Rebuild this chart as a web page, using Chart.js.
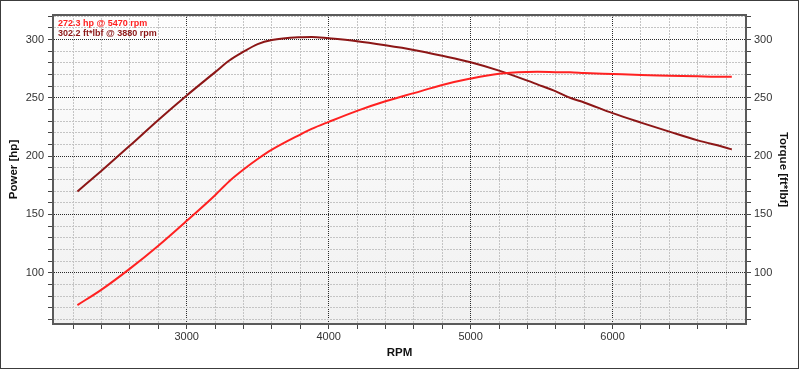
<!DOCTYPE html>
<html>
<head>
<meta charset="utf-8">
<script src="https://cdn.jsdelivr.net/npm/chart.js@4/dist/chart.umd.min.js"></script>
<style>
  html, body { margin: 0; padding: 0; background: #fff; }
  #wrap { width: 799px; height: 369px; box-sizing: border-box; border: 1px solid #3c3c3c; }
  canvas { display: block; }
</style>
</head>
<body>
<div id="wrap"><canvas id="dyno" width="797" height="367"></canvas></div>
<script>
// readings taken off the dyno sheet
var rpm    = [2230, 2400, 2600, 2800, 3000, 3200, 3300, 3400, 3500, 3600, 3800, 3880, 4000, 4200, 4400, 4600, 4800, 5000, 5200, 5400, 5470, 5600, 5700, 5800, 6000, 6200, 6400, 6600, 6800, 6840]
var power  = [72.2, 85.5, 103.5, 123.2, 144.5, 166.5, 178.5, 188.5, 197.5, 205.5, 218.5, 223.3, 229.3, 238.8, 247, 254, 261, 266.5, 270.7, 272.2, 272.3, 272, 271.8, 271.3, 270.4, 269.5, 269, 268.4, 268, 268]
var torque = [169.6, 187.5, 209, 231, 252, 272, 282, 289.5, 296, 299.5, 302, 302.2, 301, 298.5, 295, 291, 286, 280.5, 273.3, 264.7, 261.5, 255.5, 250, 246, 236.8, 228.7, 221, 213.5, 207.2, 205.7]
var peakText = ['272.3 hp @ 5470 rpm', '302.2 ft*lbf @ 3880 rpm']

var hpColor = '#ff2121'
var tqColor = '#8c1616'
var tickFont = { family: 'Liberation Sans, Arial, sans-serif', size: 11 }
var titleFont = { family: 'Liberation Sans, Arial, sans-serif', size: 11.5, weight: 'bold' }

function gridColor(ctx, major) {
    if (!ctx.tick) return '#c4c4c4'
    return ctx.tick.value % major === 0 ? '#2a2a2a' : '#c4c4c4'
}
function gridDash(ctx, major) {
    if (ctx.tick && ctx.tick.value % major === 0) return [1, 1]
    return [2, 1]
}

function yAxis(pos, title, pad, labelPad) {
    return {
        type: 'linear', position: pos, min: 56, max: 321,
        afterFit: function (s) { s.width = 52 },
        ticks: {
            stepSize: 10, includeBounds: false, autoSkip: false,
            padding: labelPad, color: '#333', font: tickFont,
            callback: function (v) { return v % 50 === 0 ? v : '' }
        },
        grid: {
            display: true, drawOnChartArea: pos === 'left', tickLength: 5,
            color: function (c) { return gridColor(c, 50) },
            tickColor: '#444', tickWidth: 1, tickBorderDash: [],
            lineWidth: 1
        },
        border: {
            display: true, color: '#5a5a5a', width: 2,
            dash: function (c) { return gridDash(c, 50) }
        },
        title: { display: true, text: title, color: '#111', font: titleFont, padding: { top: pad, bottom: 0 } }
    }
}

var bgPlugin = {
    id: 'plotBg',
    beforeDraw: function (chart) {
        var a = chart.chartArea, c = chart.ctx
        var g = c.createLinearGradient(0, a.top, 0, a.bottom)
        g.addColorStop(0, '#fdfdfd')
        g.addColorStop(1, '#f1f1f1')
        c.save()
        c.fillStyle = g
        c.fillRect(a.left, a.top, a.right - a.left, a.bottom - a.top)
        c.restore()
    },
    afterDraw: function (chart) {
        var a = chart.chartArea, c = chart.ctx
        c.save()
        c.strokeStyle = '#5a5a5a'
        c.lineWidth = 2
        c.beginPath()
        c.moveTo(a.left, a.top)
        c.lineTo(a.right, a.top)
        c.stroke()
        // peak readout
        c.font = 'bold 9px Liberation Sans, Arial, sans-serif'
        c.textBaseline = 'middle'
        c.fillStyle = hpColor
        c.fillText(peakText[0], a.left + 5, a.top + 9)
        c.fillStyle = tqColor
        c.fillText(peakText[1], a.left + 5, a.top + 18.5)
        c.restore()
    }
}

var chart = new Chart(document.getElementById('dyno').getContext('2d'), {
    type: 'line',
    data: {
        datasets: [
            {
                label: 'Power [hp]',
                data: rpm.map(function (r, i) { return { x: r, y: power[i] } }),
                borderColor: hpColor, borderWidth: 2, pointRadius: 0,
                cubicInterpolationMode: 'monotone', yAxisID: 'y'
            },
            {
                label: 'Torque [ft*lbf]',
                data: rpm.map(function (r, i) { return { x: r, y: torque[i] } }),
                borderColor: tqColor, borderWidth: 2, pointRadius: 0,
                cubicInterpolationMode: 'monotone', yAxisID: 'y2'
            }
        ]
    },
    options: {
        responsive: false,
        animation: false,
        layout: { padding: { top: 14, left: 0, right: 0, bottom: 0 } },
        plugins: { legend: { display: false }, tooltip: { enabled: false } },
        scales: {
            x: {
                type: 'linear', position: 'bottom', min: 2058, max: 6940,
                afterFit: function (s) { s.height = 44 },
                ticks: {
                    stepSize: 200, includeBounds: false, autoSkip: false, maxRotation: 0,
                    padding: 1, color: '#333', font: tickFont,
                    callback: function (v) { return v % 1000 === 0 ? v : '' }
                },
                grid: {
                    tickLength: 5, lineWidth: 1,
                    color: function (c) { return gridColor(c, 1000) },
                    tickColor: '#444', tickBorderDash: []
                },
                border: {
                    display: true, color: '#5a5a5a', width: 2,
                    dash: function (c) { return gridDash(c, 1000) }
                },
                title: { display: true, text: 'RPM', color: '#111', font: titleFont, padding: { top: 0, bottom: 8 } }
            },
            y: yAxis('left', 'Power [hp]', 6, 4),
            y2: yAxis('right', 'Torque [ft*lbf]', 8, 3)
        }
    },
    plugins: [bgPlugin]
})
</script>
</body>
</html>
